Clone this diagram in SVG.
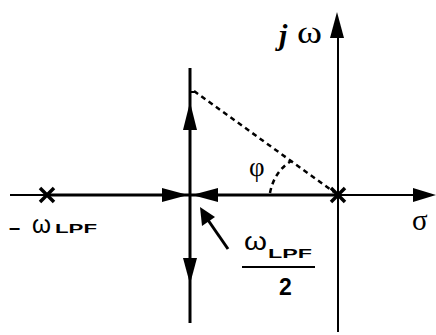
<svg xmlns="http://www.w3.org/2000/svg" width="436" height="335" viewBox="0 0 436 335">
<style>
.ax{stroke:#000;stroke-width:2;fill:none}
.thick{stroke:#000;stroke-width:3;fill:none}
.ah{fill:#000;stroke:none}
.dash{stroke:#000;stroke-width:2.5;fill:none;stroke-dasharray:5 4}
.pole{stroke:#000;stroke-width:3.5;fill:none}
.serif{font-family:"Liberation Serif","DejaVu Serif",serif;fill:#000}
.sans{font-family:"Liberation Sans","DejaVu Sans",sans-serif;fill:#000}
.sub{font-family:"Liberation Sans","DejaVu Sans",sans-serif;font-weight:bold;font-size:13px;fill:#000}
</style>
<rect width="436" height="335" fill="#fff"/>
<g id="connectors">
  <line class="ax" x1="10" y1="195" x2="420" y2="195"/>
  <polygon class="ah" points="436,195 413,188 413,202"/>
  <line class="ax" x1="338" y1="30" x2="338" y2="332"/>
  <polygon class="ah" points="337,12 330,38 344,38"/>
  <line class="thick" x1="190" y1="68" x2="190" y2="323"/>
  <polygon class="ah" points="190,102 183,130 197,130"/>
  <polygon class="ah" points="190,284 183,258 197,258"/>
  <line class="thick" x1="47" y1="195" x2="338" y2="195"/>
  <polygon class="ah" points="188,195 162,188 162,202"/>
  <polygon class="ah" points="192,195 218,188 218,202"/>
  <line class="thick" x1="228" y1="249" x2="208" y2="220"/>
  <polygon class="ah" points="200,207 202,226 215,217"/>
  <line x1="190" y1="92" x2="195" y2="92" stroke="#000" stroke-width="2"/>
  <line class="dash" x1="194" y1="91" x2="334" y2="192"/>
  <path class="dash" d="M270,193 Q274,172 291,161" stroke-dasharray="3 4"/>
</g>
<g id="pole-left">
  <path class="pole" d="M40,188 L54,202 M54,188 L40,202"/>
</g>
<g id="pole-right">
  <path class="pole" d="M331,188 L345,202 M345,188 L331,202"/>
</g>
<g id="label-jw">
  <text class="serif" x="279" y="45" font-size="30" font-style="italic" font-weight="bold">j</text>
  <text class="serif" x="297" y="43" font-size="32" textLength="25" lengthAdjust="spacingAndGlyphs">ω</text>
</g>
<g id="label-sigma">
  <text class="serif" x="412" y="230" font-size="29">σ</text>
</g>
<g id="label-phi">
  <text class="serif" x="249" y="176" font-size="27">φ</text>
</g>
<g id="label-minus-wlpf">
  <text class="sans" x="9" y="234" font-size="20" font-weight="bold">–</text>
  <text class="sans" x="32" y="233" font-size="26" textLength="19" lengthAdjust="spacingAndGlyphs">ω</text>
  <text class="sub" x="55" y="233" textLength="42" lengthAdjust="spacingAndGlyphs">LPF</text>
</g>
<g id="label-wlpf-half">
  <text class="sans" x="244" y="250" font-size="26" textLength="23" lengthAdjust="spacingAndGlyphs">ω</text>
  <text class="sub" x="268" y="258" textLength="44" lengthAdjust="spacingAndGlyphs">LPF</text>
  <line x1="242" y1="267" x2="315" y2="267" stroke="#000" stroke-width="2"/>
  <text class="sans" x="279" y="295" font-size="23" font-weight="bold">2</text>
</g>
</svg>
